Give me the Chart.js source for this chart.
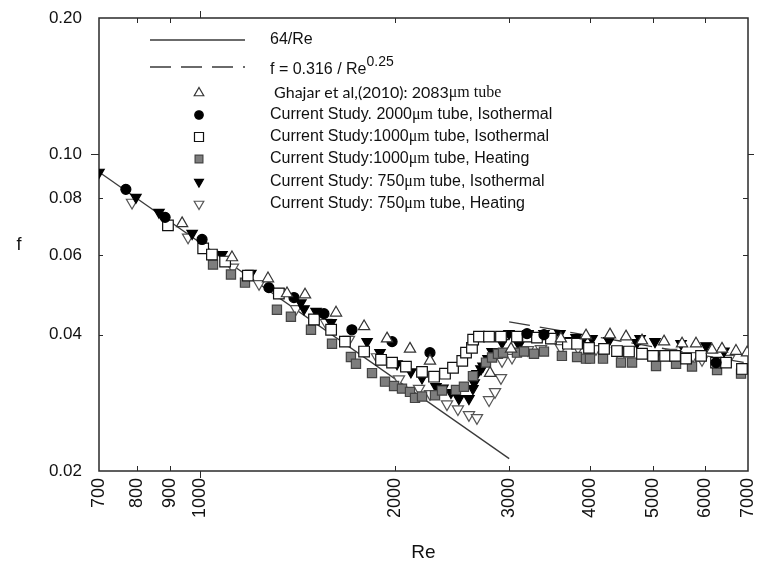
<!DOCTYPE html>
<html>
<head>
<meta charset="utf-8">
<script src="https://cdn.jsdelivr.net/npm/chart.js@4.4.1/dist/chart.umd.min.js"></script>
<style>
  html, body { margin: 0; padding: 0; background: #fff; }
  canvas { display: block; }
</style>
</head>
<body>
<canvas id="chart" width="757" height="569"></canvas>
<script>
// axis ticks
const reTicks = [700, 800, 900, 1000, 2000, 3000, 4000, 5000, 6000, 7000];
const fTicks = [0.02, 0.04, 0.06, 0.08, 0.10, 0.20];

// correlations
const reLaminar = [700, 3000];
const fLaminar = [0.0914, 0.0213];
const reBlasius = [3000, 7000];
const fBlasius = [0.0427, 0.0346];

// Ghajar et al. (2010), 2083 um tube
const reGhajar = [940, 1122, 1275, 1364, 1454, 1623, 1793, 1945, 2110, 2265, 2803, 3020, 3604, 3940, 4290, 4541, 4806, 5197, 5540, 5821, 6161, 6383, 6708, 6976];
const fGhajar = [0.0704, 0.0592, 0.0532, 0.0493, 0.0490, 0.0447, 0.0417, 0.0392, 0.0372, 0.0350, 0.0329, 0.0372, 0.0392, 0.0398, 0.0400, 0.0396, 0.0388, 0.0386, 0.0382, 0.0382, 0.0370, 0.0372, 0.0368, 0.0365];

// 2000 um tube, isothermal
const re2000Iso = [770, 885, 1009, 1279, 1398, 1555, 1717, 1980, 2265, 3196, 3394, 6250];
const f2000Iso = [0.0837, 0.0726, 0.0649, 0.0508, 0.0483, 0.0445, 0.0410, 0.0386, 0.0365, 0.0402, 0.0400, 0.0347];

// 1000 um tube, isothermal
const re1000Iso = [894, 1013, 1045, 1095, 1187, 1325, 1501, 1595, 1675, 1793, 1904, 1980, 2080, 2202, 2298, 2389, 2458, 2540, 2574, 2629, 2640, 2695, 2793, 2914, 3084, 3207, 3311, 3479, 3695, 3817, 3982, 4200, 4398, 4589, 4806, 4997, 5216, 5404, 5619, 5926, 6250, 6475, 6852];
const f1000Iso = [0.0697, 0.0620, 0.0601, 0.0580, 0.0540, 0.0493, 0.0432, 0.0410, 0.0386, 0.0367, 0.0352, 0.0347, 0.0340, 0.0331, 0.0323, 0.0328, 0.0338, 0.0350, 0.0365, 0.0374, 0.0390, 0.0396, 0.0396, 0.0396, 0.0396, 0.0396, 0.0394, 0.0392, 0.0382, 0.0382, 0.0374, 0.0372, 0.0368, 0.0367, 0.0363, 0.0359, 0.0359, 0.0359, 0.0354, 0.0359, 0.0347, 0.0347, 0.0336];

// 1000 um tube, heating
const re1000Heat = [1049, 1118, 1175, 1316, 1383, 1485, 1600, 1711, 1742, 1844, 1931, 1994, 2051, 2110, 2148, 2202, 2306, 2364, 2484, 2555, 2638, 2763, 2823, 2883, 2935, 3084, 3162, 3276, 3394, 3617, 3817, 3940, 3996, 4185, 4461, 4639, 5051, 5423, 5739, 6272, 6829];
const f1000Heat = [0.0571, 0.0543, 0.0521, 0.0454, 0.0438, 0.0410, 0.0382, 0.0357, 0.0345, 0.0329, 0.0315, 0.0308, 0.0304, 0.0299, 0.0290, 0.0292, 0.0294, 0.0301, 0.0302, 0.0307, 0.0324, 0.0347, 0.0356, 0.0363, 0.0365, 0.0365, 0.0367, 0.0363, 0.0367, 0.0359, 0.0357, 0.0354, 0.0354, 0.0354, 0.0347, 0.0347, 0.0341, 0.0345, 0.0340, 0.0334, 0.0328];

// 750 um tube, isothermal
const re750Iso = [700, 798, 866, 974, 1083, 1200, 1325, 1433, 1449, 1512, 1595, 1812, 1897, 2015, 2117, 2202, 2314, 2372, 2440, 2510, 2601, 2638, 2650, 2676, 2714, 2734, 2783, 2823, 2925, 2998, 3106, 3207, 3394, 3592, 3682, 3803, 3885, 4025, 4275, 4398, 4722, 4773, 5033, 5520, 6032, 6429];
const f750Iso = [0.0913, 0.0804, 0.0745, 0.0669, 0.0601, 0.0546, 0.0497, 0.0470, 0.0456, 0.0450, 0.0425, 0.0386, 0.0365, 0.0345, 0.0331, 0.0321, 0.0307, 0.0305, 0.0298, 0.0289, 0.0289, 0.0304, 0.0313, 0.0328, 0.0336, 0.0341, 0.0354, 0.0367, 0.0384, 0.0402, 0.0380, 0.0402, 0.0402, 0.0402, 0.0388, 0.0394, 0.0388, 0.0392, 0.0388, 0.0370, 0.0384, 0.0392, 0.0386, 0.0382, 0.0378, 0.0368];

// 750 um tube, heating
const re750Heat = [787, 960, 1045, 1126, 1235, 1408, 1566, 1699, 1877, 2029, 2179, 2265, 2406, 2501, 2601, 2676, 2793, 2853, 2914, 2925, 3030, 3207, 3358, 3604, 3830, 4082, 4398, 5051, 5328, 5540, 5760, 5946, 6544];
const f750Heat = [0.0783, 0.0656, 0.0601, 0.0563, 0.0518, 0.0456, 0.0425, 0.0390, 0.0357, 0.0319, 0.0304, 0.0296, 0.0281, 0.0274, 0.0266, 0.0262, 0.0287, 0.0299, 0.0321, 0.0350, 0.0356, 0.0370, 0.0372, 0.0374, 0.0374, 0.0372, 0.0368, 0.0363, 0.0365, 0.0359, 0.0359, 0.0352, 0.0354];

const seriesNames = [
  '64/Re',
  'f = 0.316 / Re',
  'Ghajar et al,(2010): 2083μm tube',
  'Current Study. 2000μm tube, Isothermal',
  'Current Study:1000μm tube, Isothermal',
  'Current Study:1000μm tube, Heating',
  'Current Study: 750μm tube, Isothermal',
  'Current Study: 750μm tube, Heating'
];

const SANS = "'Liberation Sans', Arial, sans-serif";
const SERIF = "'Liberation Serif', 'Times New Roman', serif";

const pts = (xs, ys) => xs.map((x, i) => ({ x: x, y: ys[i] }));

function lineSet(label, xs, ys, dash) {
  return {
    label: label, data: pts(xs, ys), showLine: true, pointRadius: 0,
    borderColor: '#3a3a3a', borderWidth: 1.3, borderDash: dash, order: 10
  };
}

function markerSet(label, xs, ys, style, radius, fill, stroke, rotation) {
  return {
    label: label, data: pts(xs, ys), showLine: false,
    pointStyle: style, pointRadius: radius, pointRotation: rotation || 0,
    pointBackgroundColor: fill, pointBorderColor: stroke, pointBorderWidth: 1.2,
    backgroundColor: fill, borderColor: stroke
  };
}

const datasets = [
  lineSet(seriesNames[0], reLaminar, fLaminar, []),
  lineSet(seriesNames[1], reBlasius, fBlasius, [21, 10]),
  markerSet(seriesNames[2], reGhajar, fGhajar, 'triangle', 6.5, '#fff', '#333'),
  markerSet(seriesNames[3], re2000Iso, f2000Iso, 'circle', 5, '#000', '#000'),
  markerSet(seriesNames[4], re1000Iso, f1000Iso, 'rect', 7.5, '#fff', '#111'),
  markerSet(seriesNames[5], re1000Heat, f1000Heat, 'rect', 6.5, '#7d7d7d', '#444'),
  markerSet(seriesNames[6], re750Iso, f750Iso, 'triangle', 6, '#000', '#000', 180),
  markerSet(seriesNames[7], re750Heat, f750Heat, 'triangle', 6.5, '#fff', '#555', 180)
];

// frame with small inner ticks, decade ticks point outwards
const framePlugin = {
  id: 'frame',
  beforeDatasetsDraw(chart) {
    const { ctx, chartArea: a, scales: { x, y } } = chart;
    ctx.save();
    ctx.strokeStyle = '#2a2a2a';
    ctx.lineWidth = 1.5;
    ctx.strokeRect(a.left, a.top, a.right - a.left, a.bottom - a.top);
    ctx.lineWidth = 1;
    ctx.beginPath();
    reTicks.slice(1, -1).forEach(v => {
      const px = Math.round(x.getPixelForValue(v)) + 0.5;
      if (v === 1000) {
        ctx.moveTo(px, a.bottom); ctx.lineTo(px, a.bottom + 7);
        ctx.moveTo(px, a.top); ctx.lineTo(px, a.top - 7);
      } else {
        ctx.moveTo(px, a.bottom); ctx.lineTo(px, a.bottom - 5);
        ctx.moveTo(px, a.top); ctx.lineTo(px, a.top + 5);
      }
    });
    fTicks.slice(1, -1).forEach(v => {
      const py = Math.round(y.getPixelForValue(v)) + 0.5;
      if (v === 0.10) {
        ctx.moveTo(a.left, py); ctx.lineTo(a.left - 8, py);
        ctx.moveTo(a.right, py); ctx.lineTo(a.right + 6, py);
      } else {
        ctx.moveTo(a.left, py); ctx.lineTo(a.left + 4, py);
        ctx.moveTo(a.right, py); ctx.lineTo(a.right - 5, py);
      }
    });
    ctx.stroke();
    ctx.restore();
  },
  afterDraw(chart) {
    const ctx = chart.ctx;
    ctx.save();
    ctx.fillStyle = '#111';
    ctx.font = '18px ' + SANS;
    ctx.textAlign = 'center';
    ctx.textBaseline = 'middle';
    ctx.fillText('f', 19, 245);
    ctx.restore();
  }
};

function drawRuns(ctx, runs, x, y) {
  runs.forEach(r => {
    ctx.font = r[1];
    ctx.fillText(r[0], x, y + (r[2] || 0));
    x += ctx.measureText(r[0]).width;
  });
}

function unitRuns(label, font) {
  const i = label.indexOf('μm');
  return [[label.slice(0, i), font], ['μm', '16px ' + SERIF], [label.slice(i + 2), font]];
}

// legend block in the upper left of the plot
const legendPlugin = {
  id: 'sketchLegend',
  afterDraw(chart) {
    const ctx = chart.ctx;
    const rowsY = [40, 67, 93, 115, 137, 159, 182, 204];
    const textX = 270;
    const font = '16px ' + SANS;
    ctx.save();
    ctx.fillStyle = '#111';
    ctx.textBaseline = 'middle';
    ctx.textAlign = 'left';

    [0, 1].forEach(i => {
      const ds = chart.data.datasets[i];
      ctx.beginPath();
      ctx.strokeStyle = ds.borderColor;
      ctx.lineWidth = ds.borderWidth;
      ctx.setLineDash(ds.borderDash);
      ctx.moveTo(150, rowsY[i]);
      ctx.lineTo(245, rowsY[i]);
      ctx.stroke();
    });
    ctx.setLineDash([]);

    drawRuns(ctx, [[seriesNames[0], font]], textX, rowsY[0]);
    drawRuns(ctx, [[seriesNames[1], font], ['0.25', '14px ' + SANS, -8]], textX, rowsY[1] + 3);
    const g = seriesNames[2];
    const k = g.indexOf('μm');
    drawRuns(ctx, [[' ' + g.slice(0, k), '16px Lato, ' + SANS], [g.slice(k), '16px ' + SERIF]], textX, rowsY[2]);
    for (let i = 3; i < 8; i++) {
      drawRuns(ctx, unitRuns(seriesNames[i], font), textX, rowsY[i]);
    }

    for (let i = 2; i < 8; i++) {
      const ds = chart.data.datasets[i];
      ctx.fillStyle = ds.pointBackgroundColor;
      ctx.strokeStyle = ds.pointBorderColor;
      ctx.lineWidth = ds.pointBorderWidth;
      Chart.helpers.drawPoint(ctx, {
        pointStyle: ds.pointStyle,
        rotation: ds.pointRotation,
        radius: ds.pointRadius * 0.85,
        borderWidth: ds.pointBorderWidth
      }, 199, rowsY[i]);
    }
    ctx.restore();
  }
};

// keep the plot box fixed regardless of label overhang
function noPad(s) {
  s.paddingLeft = 0; s.paddingRight = 0; s.paddingTop = 0; s.paddingBottom = 0;
}

new Chart(document.getElementById('chart'), {
  type: 'scatter',
  data: { datasets: datasets },
  options: {
    responsive: false,
    animation: false,
    layout: { padding: { left: 0, top: 18, right: 9, bottom: 0 } },
    plugins: { legend: { display: false }, tooltip: { enabled: false } },
    scales: {
      x: {
        type: 'logarithmic', min: 700, max: 7000,
        afterBuildTicks: s => { s.ticks = reTicks.map(v => ({ value: v })); },
        afterFit: s => { s.height = 98; noPad(s); },
        grid: { display: false, drawTicks: false },
        border: { display: false },
        ticks: {
          autoSkip: false, minRotation: 90, maxRotation: 90, padding: 7,
          color: '#111', font: { family: SANS, size: 18 },
          callback: v => String(v)
        },
        title: {
          display: true, text: 'Re', color: '#111',
          font: { family: SANS, size: 19 }, padding: { top: 0, bottom: 5 }
        }
      },
      y: {
        type: 'logarithmic', min: 0.02, max: 0.2,
        afterBuildTicks: s => { s.ticks = fTicks.map(v => ({ value: v })); },
        afterFit: s => { s.width = 99; noPad(s); },
        grid: { display: false, drawTicks: false },
        border: { display: false },
        ticks: {
          padding: 17, color: '#111', font: { family: SANS, size: 17 },
          callback: v => Number(v).toFixed(2)
        }
      }
    }
  },
  plugins: [framePlugin, legendPlugin]
});
</script>
</body>
</html>
